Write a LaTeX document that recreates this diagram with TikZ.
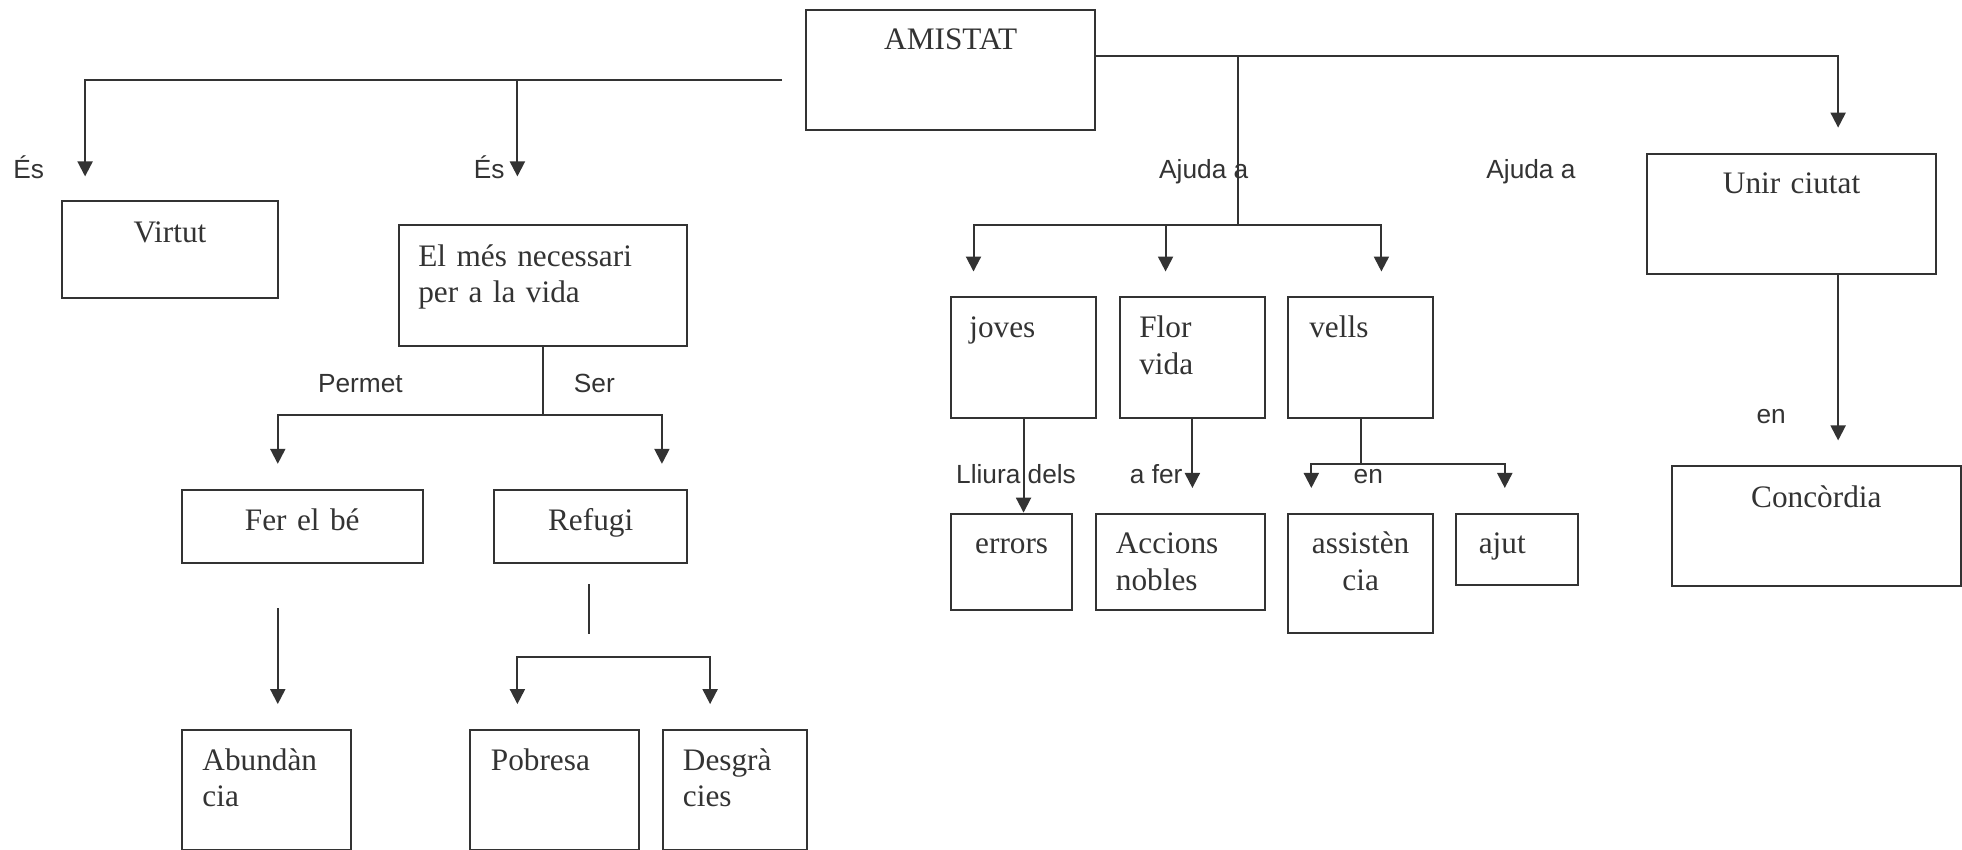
\documentclass[tikz,border=0pt]{standalone}
\usepackage{fontspec}
\setmainfont{Liberation Serif}
\newfontfamily\arial{Liberation Sans}
\usetikzlibrary{arrows.meta}
\definecolor{linia}{HTML}{333333}

\begin{document}
\begin{tikzpicture}[x=1pt, y=-1pt, line width=1.6pt, color=linia,
  caixa/.style={draw=linia, anchor=north west, inner ysep=0pt, text=linia, font=\fontsize{25}{29.3}\selectfont},
  mig/.style={align=center, inner xsep=0pt},
  esq/.style={align=left},
  etiqueta/.style={font=\arial\fontsize{21}{25}\selectfont, text=linia, inner sep=0pt, anchor=base},
  fletxa/.style={-{Triangle[length=12pt, width=12pt]}},
  doble/.style={{Triangle[length=12pt, width=12pt]}-{Triangle[length=12pt, width=12pt]}}]
\useasboundingbox (0,0) rectangle (1568,679);

% caixes
\node[caixa, mig, text width=231pt, text height=32pt, text depth=64pt] (amistat) at (643.5,7) {AMISTAT};
\node[caixa, mig, text width=172pt, text height=33pt, text depth=44pt] (virtut) at (49,160) {Virtut};
\node[caixa, esq, inner xsep=15.5pt, text width=199pt, text height=33pt, text depth=63.5pt] (elmes) at (318,179) {El més necessari\\per a la vida};
\node[caixa, mig, text width=192.5pt, text height=32.3pt, text depth=25.8pt] (fer) at (144.5,390.7) {Fer el bé};
\node[caixa, mig, text width=154.5pt, text height=32.3pt, text depth=25.8pt] (refugi) at (394,390.7) {Refugi};
\node[caixa, esq, inner xsep=16.5pt, text width=102pt, text height=32pt, text depth=63.8pt] (abund) at (144.5,582.7) {Abundàn\\cia};
\node[caixa, esq, inner xsep=16.5pt, text width=102pt, text height=32pt, text depth=63.8pt] (pobresa) at (375,582.7) {Pobresa};
\node[caixa, esq, inner xsep=16pt, text width=83pt, text height=32pt, text depth=63.8pt] (desgr) at (529,582.7) {Desgrà\\cies};
\node[caixa, esq, inner xsep=14.5pt, text width=86.6pt, text height=32.2pt, text depth=64pt] (joves) at (759.4,236.8) {joves};
\node[caixa, esq, inner xsep=15.4pt, text width=84.9pt, text height=32.2pt, text depth=64pt] (flor) at (894.3,236.8) {Flor\\vida};
\node[caixa, esq, inner xsep=17pt, text width=82pt, text height=32.2pt, text depth=64pt] (vells) at (1028.6,236.8) {vells};
\node[caixa, mig, text width=96.6pt, text height=31.8pt, text depth=45pt] (errors) at (759.4,409.7) {errors};
\node[caixa, esq, inner xsep=16pt, text width=103pt, text height=31.8pt, text depth=45pt] (accions) at (875,409.7) {Accions\\nobles};
\node[caixa, mig, text width=116pt, text height=31.8pt, text depth=63.9pt] (assist) at (1028.6,409.7) {assistèn\\cia};
\node[caixa, esq, inner xsep=18pt, text width=60.9pt, text height=31.8pt, text depth=25.4pt] (ajut) at (1163,409.7) {ajut};
\node[caixa, mig, text width=231pt, text height=32pt, text depth=64pt] (unir) at (1315.5,122) {Unir ciutat};
\node[caixa, mig, text width=230.5pt, text height=32.5pt, text depth=63pt] (concordia) at (1335.5,372) {Concòrdia};

% branca esquerra
\coordinate (talla) at (625,64);
\coordinate (esvirtut) at (68,141);
\coordinate (esnecessari) at (413.5,141);
\draw[fletxa] (talla) -| (esvirtut);
\draw[fletxa] (esnecessari |- talla) -- (esnecessari);

% branca dreta
\coordinate (ajuda) at (989.5,179.5);
\coordinate (aunir) at (1469,102);
\coordinate (ajoves) at (778,217);
\coordinate (aflor) at (931.5,217);
\coordinate (avells) at (1104,217);
\draw[fletxa] (amistat.east |- 0,45) -| (aunir);
\draw (ajuda |- 0,45) -- (ajuda);
\draw[fletxa] (ajuda) -| (ajoves);
\draw[fletxa] (ajuda) -| (avells);
\draw[fletxa] (aflor |- ajuda) -- (aflor);

% el mes necessari
\coordinate (permet) at (elmes.south |- 0,332);
\coordinate (afer) at (222,370.7);
\coordinate (aser) at (529,370.7);
\draw (elmes.south) -- (permet);
\draw[fletxa] (permet) -| (afer);
\draw[fletxa] (permet) -| (aser);

\coordinate (fer1) at (222,486);
\coordinate (fer2) at (222,562.7);
\draw[fletxa] (fer1) -- (fer2);

\coordinate (ref1) at (471,467);
\coordinate (ref2) at (471,506.7);
\draw (ref1) -- (ref2);
\coordinate (apob) at (413.5,562.7);
\coordinate (ades) at (567.5,562.7);
\draw[doble] (apob) |- (ades |- 0,525) -- (ades);

% joves, flor, vells
\draw[fletxa] (joves.south) -- (joves.south |- errors.north);
\coordinate (aaccions) at (flor.south |- 0,390);
\draw[fletxa] (flor.south) -- (aaccions);
\coordinate (avell1) at (1048,390);
\coordinate (avell2) at (1202.6,390);
\draw (vells.south) -- (vells.south |- 0,370.8);
\draw[doble] (avell1) |- (avell2 |- 0,370.8) -- (avell2);

\coordinate (aconc) at (1469,352);
\draw[fletxa] (aconc |- unir.south) -- (aconc);

% etiquetes
\node[etiqueta] (es1) at (23,142.5) {És};
\node[etiqueta] (es2) at (391,142.5) {És};
\node[etiqueta] (ajuda1) at (962,142.5) {Ajuda a};
\node[etiqueta] (ajuda2) at (1223.5,142.5) {Ajuda a};
\node[etiqueta] (lpermet) at (288,314) {Permet};
\node[etiqueta] (lser) at (475,314) {Ser};
\node[etiqueta] (lliura) at (812,386.5) {Lliura dels};
\node[etiqueta] (lafer) at (924,386.5) {a fer};
\node[etiqueta] (len1) at (1093.5,386.5) {en};
\node[etiqueta] (len2) at (1415.5,338.7) {en};
\end{tikzpicture}
\end{document}
